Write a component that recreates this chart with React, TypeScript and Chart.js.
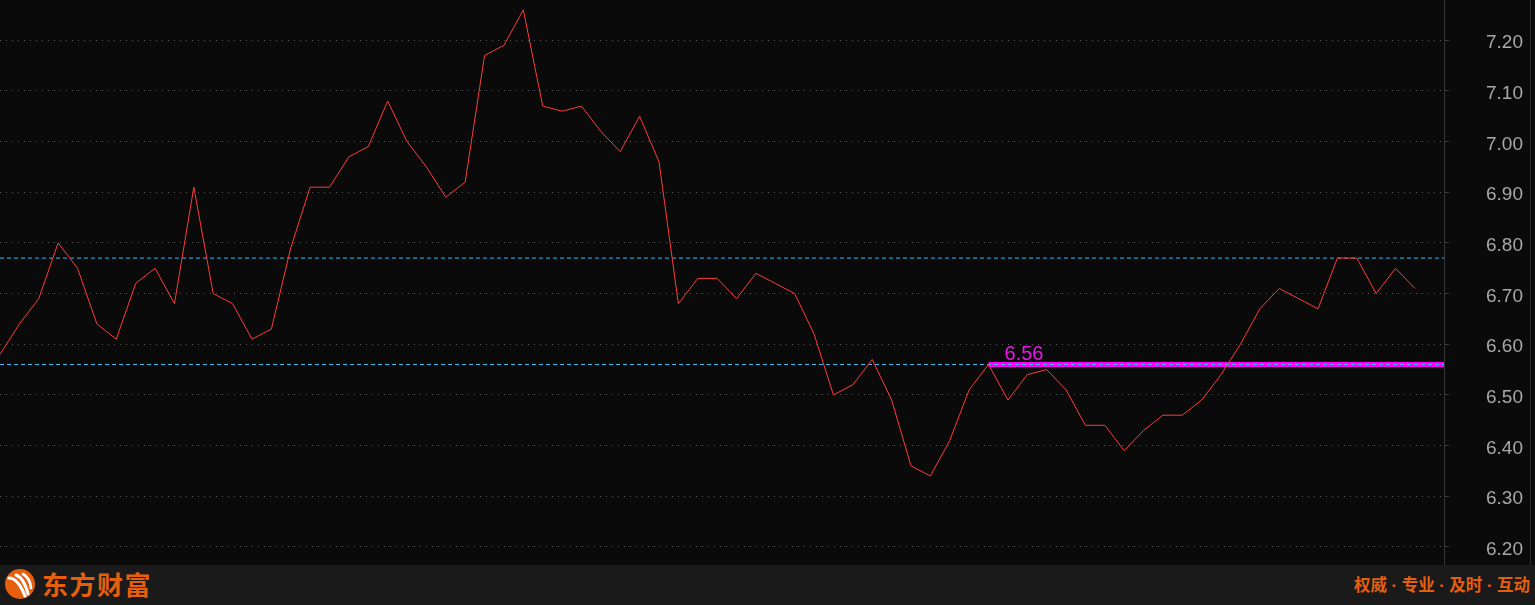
import React, { useEffect, useRef } from "react";
import { Chart, registerables } from "chart.js";

Chart.register(...registerables);

// ---- data ----
const prices: number[] = [
  6.58, 6.64, 6.69, 6.8, 6.75, 6.64, 6.61, 6.72, 6.75, 6.68,
  6.91, 6.7, 6.68, 6.61, 6.63, 6.79, 6.91, 6.91, 6.97, 6.99,
  7.08, 7.0, 6.95, 6.89, 6.92, 7.17, 7.19, 7.26, 7.07, 7.06,
  7.07, 7.02, 6.98, 7.05, 6.96, 6.68, 6.73, 6.73, 6.69, 6.74,
  6.72, 6.7, 6.62, 6.5, 6.52, 6.57, 6.49, 6.36, 6.34, 6.41,
  6.51, 6.56, 6.49, 6.54, 6.55, 6.51, 6.44, 6.44, 6.39, 6.43,
  6.46, 6.46, 6.49, 6.54, 6.6, 6.67, 6.71, 6.69, 6.67, 6.77,
  6.77, 6.7, 6.75, 6.71,
];
const yTicks: number[] = [7.2, 7.1, 7.0, 6.9, 6.8, 6.7, 6.6, 6.5, 6.4, 6.3, 6.2];
const refLines: number[] = [6.77, 6.56];
const markValue = 6.56;
const markStartIndex = 51;
const brandName = "东方财富";
const slogan = "权威 · 专业 · 及时 · 互动";

// ---- axis range ----
const X_MAX = 74.5;
const Y_MAX = 7.2794;
const Y_MIN = 6.1643;

const ORANGE = "#e55f0e";

const markLabelPlugin = {
  id: "markLabel",
  afterDatasetsDraw(chart: any) {
    const { ctx, scales } = chart;
    const x = scales.x.getPixelForValue(markStartIndex);
    const y = scales.y.getPixelForValue(markValue);
    ctx.save();
    ctx.font = '20px "Liberation Sans", Arial, sans-serif';
    ctx.fillStyle = "#e81ae8";
    ctx.textAlign = "left";
    ctx.textBaseline = "alphabetic";
    ctx.fillText(markValue.toFixed(2), x + 16, y - 5);
    ctx.restore();
  },
};

export default function App() {
  const canvasRef = useRef<HTMLCanvasElement | null>(null);

  useEffect(() => {
    document.body.style.margin = "0";
    document.body.style.background = "#0a0a0a";
    const canvas = canvasRef.current;
    if (!canvas) return;

    const lineData = prices.map((v, i) => ({ x: i, y: v }));
    const refDatasets = refLines.map((v) => ({
      data: [
        { x: 0, y: v },
        { x: X_MAX, y: v },
      ],
      borderColor: "#3ab8f2",
      borderWidth: 1,
      borderDash: [4, 3],
      pointRadius: 0,
      fill: false,
    }));

    const chart = new Chart(canvas, {
      type: "line",
      data: {
        datasets: [
          {
            data: lineData,
            borderColor: "#ff3b3b",
            borderWidth: 1,
            pointRadius: 0,
            tension: 0,
            fill: false,
          },
          ...refDatasets,
          {
            data: [
              { x: markStartIndex, y: markValue },
              { x: X_MAX, y: markValue },
            ],
            borderColor: "#ff00ff",
            borderWidth: 5,
            borderCapStyle: "butt",
            pointRadius: 0,
            fill: false,
          },
        ] as any,
      },
      options: {
        animation: false,
        responsive: false,
        maintainAspectRatio: false,
        layout: { padding: 0 },
        plugins: {
          legend: { display: false },
          tooltip: { enabled: false },
        },
        scales: {
          x: {
            type: "linear",
            display: false,
            min: 0,
            max: X_MAX,
          },
          y: {
            type: "linear",
            position: "right",
            min: Y_MIN,
            max: Y_MAX,
            afterBuildTicks: (scale: any) => {
              scale.ticks = yTicks.map((v) => ({ value: v }));
            },
            afterFit: (scale: any) => {
              scale.width = 91;
              scale.paddingTop = 0;
              scale.paddingBottom = 0;
            },
            ticks: {
              color: "#a8a8a8",
              padding: 37,
              labelOffset: 3,
              font: { family: '"Liberation Sans", Arial, sans-serif', size: 19 },
              callback: (v: any) => Number(v).toFixed(2),
            },
            grid: {
              color: "#585858",
              lineWidth: 1,
              drawTicks: true,
              tickLength: 5,
              tickColor: "#3a3a3a",
            },
            border: {
              display: true,
              color: "#353535",
              width: 1,
              dash: [1, 5],
            },
          },
        },
      } as any,
      plugins: [markLabelPlugin],
    });

    return () => chart.destroy();
  }, []);

  return (
    <div
      style={{
        position: "relative",
        width: 1535,
        height: 605,
        background: "#0a0a0a",
        overflow: "hidden",
      }}
    >
      <canvas
        ref={canvasRef}
        width={1535}
        height={565}
        style={{ position: "absolute", left: 0, top: 0, width: 1535, height: 565 }}
      />
      <div
        style={{
          position: "absolute",
          left: 1530,
          top: 0,
          width: 1,
          height: 565,
          background: "#2a2a2a",
        }}
      />
      <div
        style={{
          position: "absolute",
          left: 0,
          top: 565,
          width: 1535,
          height: 40,
          background: "#1a1a1a",
        }}
      >
        <svg
          width={40}
          height={40}
          style={{ position: "absolute", left: 0, top: 0 }}
          viewBox="0 0 40 40"
        >
          <circle cx={20} cy={19} r={15} fill={ORANGE} />
          <path d="M9,13 Q18,13 25,31" stroke="#ffffff" strokeWidth={3.2} fill="none" strokeLinecap="round" />
          <path d="M16,10 Q24,13 28,29" stroke="#ffffff" strokeWidth={3} fill="none" strokeLinecap="round" />
          <path d="M23,9 Q30,13 31,23" stroke="#ffffff" strokeWidth={2.6} fill="none" strokeLinecap="round" />
        </svg>
        <div
          style={{
            position: "absolute",
            left: 42,
            top: 0,
            height: 38,
            lineHeight: "38px",
            fontFamily: '"Noto Sans CJK SC", sans-serif',
            fontWeight: 700,
            fontSize: 26,
            letterSpacing: 1.5,
            color: ORANGE,
            whiteSpace: "nowrap",
          }}
        >
          {brandName}
        </div>
        <div
          style={{
            position: "absolute",
            right: 5,
            top: 0,
            height: 40,
            lineHeight: "40px",
            fontFamily: '"Liberation Sans", "Noto Sans CJK SC", sans-serif',
            fontWeight: 700,
            fontSize: 16.5,
            color: ORANGE,
            whiteSpace: "nowrap",
          }}
        >
          {slogan}
        </div>
      </div>
    </div>
  );
}
